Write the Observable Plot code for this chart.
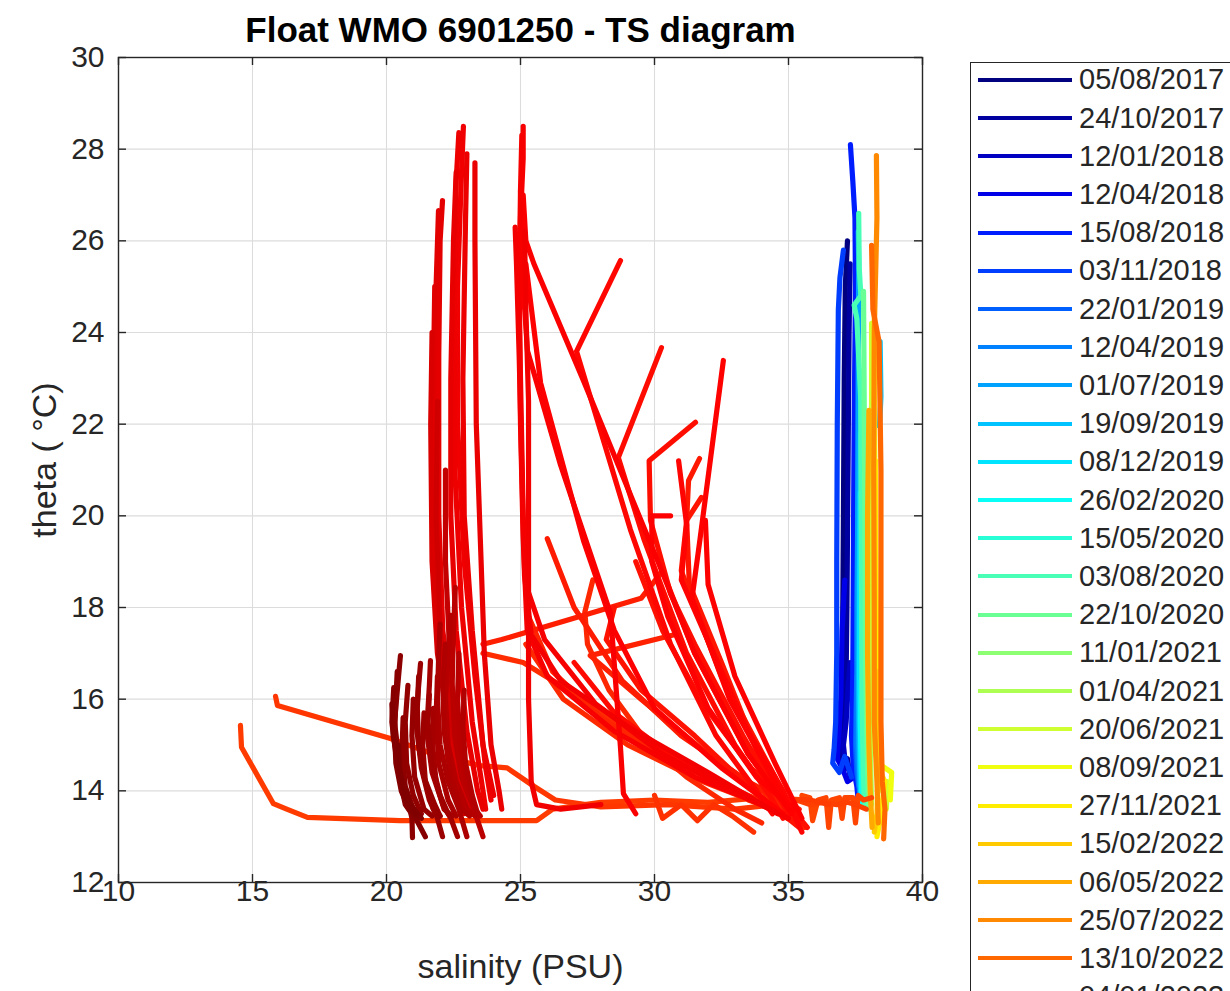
<!DOCTYPE html>
<html><head><meta charset="utf-8">
<script src="https://cdn.jsdelivr.net/npm/d3@7"></script>
<script src="https://cdn.jsdelivr.net/npm/@observablehq/plot@0.6"></script>
<style>
html,body{margin:0;padding:0;background:#fff;overflow:hidden;width:1230px;height:991px;}
#wrap{position:relative;width:1230px;height:991px;overflow:hidden;font-family:"Liberation Sans",Arial,sans-serif;}
#wrap svg.plot{position:absolute;left:0;top:0;}
#legend{position:absolute;left:970px;top:62px;width:300px;height:1000px;border:1.2px solid #262626;background:#fff;box-sizing:border-box;}
.item{position:absolute;left:7px;height:32px;display:flex;align-items:center;font-size:29px;color:#262626;white-space:nowrap;}
.item svg{margin-right:7px;}
</style></head>
<body><div id="wrap"><div id="legend"></div></div>
<script>
// ---------- data ----------
const titleText = "Float WMO 6901250 - TS diagram";
const xLabel = "salinity (PSU)";
const yLabel = "theta ( \u00B0C)";
const xTicks = [10, 15, 20, 25, 30, 35, 40];
const yTicks = [12, 14, 16, 18, 20, 22, 24, 26, 28, 30];
const dateStart = "2017-08-05";
const dateEnd = "2024-04-20";

const legendDates = ["05/08/2017","24/10/2017","12/01/2018","12/04/2018","15/08/2018","03/11/2018",
  "22/01/2019","12/04/2019","01/07/2019","19/09/2019","08/12/2019","26/02/2020","15/05/2020",
  "03/08/2020","22/10/2020","11/01/2021","01/04/2021","20/06/2021","08/09/2021","27/11/2021",
  "15/02/2022","06/05/2022","25/07/2022","13/10/2022","04/01/2023"];

// Aegean profiles 2017-2022: [salinity, theta]
const aegeanDates = ["2017-08-05","2017-10-24","2018-01-12","2018-04-12","2018-08-15","2018-11-03",
  "2019-01-22","2019-04-12","2019-07-01","2019-09-19","2019-12-08","2020-02-26","2020-05-15",
  "2020-08-03","2020-10-22","2021-01-11","2021-04-01","2021-06-20","2021-09-08","2021-11-27",
  "2022-02-15","2022-05-06","2022-07-25","2022-10-13"];
const aegeanProfiles = [
  [[37.2,26.0],[37.12,25.0],[37.08,23],[37.05,20],[37.02,17.5],[37.0,16],[36.95,15.2],[36.85,14.9],[36.95,14.6],[37.1,14.5]],
  [[37.3,25.5],[37.26,24],[37.22,21],[37.18,18],[37.15,16.5],[37.05,15.4],[36.95,14.8],[37.05,14.45],[37.2,14.7],[37.3,14.3]],
  [[37.3,16.8],[37.22,16.2],[37.15,15.5],[37.05,15.0],[37.12,14.6],[37.3,14.4],[37.45,14.6]],
  [[37.1,18.6],[37.0,17.5],[36.95,16],[36.88,15.2],[36.82,14.7],[37.0,14.5],[37.2,14.2],[37.45,14.3]],
  [[37.31,28.1],[37.4,27.3],[37.48,26.5],[37.5,25],[37.45,22],[37.42,19],[37.4,16.5],[37.35,15.2],[37.42,14.5],[37.55,14.1],[37.6,13.8]],
  [[37.05,25.8],[36.92,25.2],[36.86,24.5],[36.82,22],[36.8,19],[36.8,17],[36.76,15.5],[36.7,14.9],[36.65,14.6],[36.9,14.4],[37.1,14.75],[37.35,14.3]],
  [[37.55,16.5],[37.52,15.8],[37.5,15.0],[37.55,14.4],[37.62,14.1]],
  [[37.58,19.8],[37.55,18],[37.55,16],[37.55,15],[37.62,14.2],[37.66,13.9]],
  [[37.6,26.2],[37.62,25.5],[37.6,23],[37.58,20],[37.6,17],[37.62,15],[37.66,14.1]],
  [[38.42,23.8],[38.45,22.6],[38.4,22.0],[37.68,21.8],[37.65,19],[37.63,16],[37.66,14.5],[37.7,13.8]],
  [[37.68,20.5],[37.66,18.5],[37.65,16.5],[37.7,14.8],[37.72,13.8]],
  [[37.72,16.4],[37.68,15.5],[37.72,14.5],[37.75,13.7]],
  [[37.7,22.8],[37.72,21],[37.74,18],[37.76,15.5],[37.8,13.8]],
  [[37.62,26.6],[37.64,25.4],[37.7,24.8],[37.45,24.6],[37.55,24.3],[37.7,22.5],[37.72,19],[37.75,16],[37.8,14.3],[37.85,13.7]],
  [[37.8,24.9],[37.82,23],[37.85,20],[37.88,16.5],[37.95,14.5],[38.0,13.6]],
  [[37.95,16.8],[37.95,15.8],[38.0,14.8],[38.05,13.8]],
  [[38.0,18.2],[38.0,16.5],[38.05,15],[38.1,13.7]],
  [[38.1,24.2],[38.1,21],[38.15,17],[38.2,15],[38.5,14.0],[38.7,14.2],[38.65,13.6]],
  [[38.2,25.6],[38.2,23],[38.25,19],[38.3,16],[38.35,14.6],[38.85,14.4],[38.8,13.8]],
  [[38.25,21.2],[38.25,18.5],[38.3,16],[38.35,14.5],[38.6,14.2],[38.4,13.3],[38.3,13.0]],
  [[38.3,16.6],[38.3,15.3],[38.35,14.4],[38.3,13.5],[38.2,13.1]],
  [[38.0,22.3],[37.95,20],[37.95,17],[38.0,15],[38.05,14],[38.12,13.2]],
  [[38.28,27.86],[38.3,26.5],[38.2,24],[38.18,21],[38.2,18],[38.2,15.5],[38.3,14.2],[38.35,13.3]],
  [[38.1,25.9],[38.15,24.5],[38.38,23.8],[38.45,21],[38.45,18],[38.45,15.5],[38.5,14.2],[38.6,13.6],[38.55,12.95]]
];

// Early 2023 transition profiles
const transitionDates = ["2023-01-04","2023-01-15","2023-01-28","2023-02-10","2023-02-22"];
const transitionProfiles = [
  [[38.1,13.85],[37.8,13.8],[37.6,13.9],[37.5,13.3],[37.4,13.85],[37.1,13.85],[37.0,13.4],[36.9,13.85],[36.6,13.8],[36.5,13.2],[36.4,13.85],[36.1,13.8],[35.9,13.35],[35.8,13.85],[35.5,13.9]],
  [[37.9,13.6],[37.5,13.7],[37.2,13.75],[36.8,13.7],[36.3,13.75],[35.8,13.7],[35.3,13.8],[34.8,13.5],[34.5,13.85],[34.0,13.7],[33.5,13.8]],
  [[14.55,15.43],[14.59,14.95],[15.78,13.72],[16.23,13.61],[17.05,13.42],[20.5,13.35],[25.6,13.35],[26.2,13.6],[28.0,13.75],[30.0,13.8],[32.0,13.75],[34.0,13.85],[35.8,13.8],[36.5,13.7]],
  [[15.86,16.06],[15.93,15.86],[20.15,15.14],[22.0,14.75],[23.5,14.55],[24.5,14.5],[25.5,14.1],[26.3,13.8],[28.0,13.65],[30.5,13.7],[33.0,13.6],[34.5,13.7]],
  [[30.0,13.9],[30.3,13.4],[31.0,13.7],[31.6,13.35],[32.2,13.7],[32.9,13.45],[33.7,13.1]]
];

// Spring 2023 profiles (fan)
const springDates = ["2023-03-05","2023-03-12","2023-03-18","2023-03-25","2023-04-01","2023-04-08",
  "2023-04-15","2023-04-22","2023-04-29","2023-05-05","2023-05-11","2023-05-17","2023-05-23",
  "2023-05-29","2023-06-04","2023-06-09","2023-06-13","2023-06-17","2023-06-19"];
const springProfiles = [
  [[23.6,17.0],[25.1,16.8],[26.5,16.3],[29,15.3],[32,14.3],[35,13.5]],
  [[25.2,17.2],[26.6,16.0],[29.0,15.0],[31.8,14.2],[34.0,13.7],[35.6,13.2]],
  [[27.7,18.6],[27.4,17.9],[27.5,17.2],[28.3,16.2],[29.8,15.0],[31.2,14.3],[33,13.6],[34.0,13.3]],
  [[25.3,17.8],[26.2,16.6],[28.0,15.6],[30.5,14.7],[33.0,14.0],[35.2,13.5]],
  [[30.7,17.4],[27.6,16.95],[29.5,16.0],[32,14.8],[34.5,13.8],[35.3,13.3]],
  [[23.6,17.2],[24.3,17.3],[29.5,18.2],[30.3,18.8],[31.5,17],[33.5,14.8],[35.3,13.4]],
  [[26.0,19.5],[27.0,18.0],[28.8,16.4],[31,15.2],[33.5,14.2],[35.4,13.6]],
  [[31.68,21.25],[31.27,20.77],[31.2,19.9],[31.0,18.8],[32.5,16.5],[34.5,14.3],[35.3,13.3]],
  [[31.75,20.4],[31.2,19.9],[31.3,18.5],[32.5,16.8],[34,14.6],[35.2,13.5]],
  [[28.5,18.0],[28.2,17.3],[29.5,16.2],[31.5,15.2],[33.5,14.1],[35.4,13.2]],
  [[29.3,19.0],[30.3,17.5],[31.8,15.9],[33.6,14.5],[35.0,13.7],[35.7,13.2]],
  [[31.53,22.04],[29.8,21.2],[29.85,19.9],[30.6,18.3],[31.5,17.2],[33.3,15.2],[34.5,14],[35.0,13.5]],
  [[30.26,23.67],[28.65,21.27],[29.6,19.5],[30.3,18.4],[31.2,17],[33,15],[34.3,13.9],[34.8,13.4]],
  [[27.0,16.8],[28.5,15.7],[30.8,14.7],[33.2,13.9],[34.8,13.5]],
  [[28.73,25.57],[27.09,23.59],[29.1,19.7],[30.6,17.2],[32.3,15.2],[33.8,14.0],[34.4,13.5]],
  [[30.9,21.2],[31.2,19.8],[31.0,18.6],[32.2,17.0],[33.5,15.3],[34.8,14.0],[35.5,13.1]],
  [[32.57,23.39],[31.7,19.5],[31.4,18.2],[32.8,16],[34.2,14.5],[35.1,13.5]],
  [[30.6,20.0],[29.9,20.0],[29.9,19.0],[30.5,17.8],[32,15.8],[33.8,14.3],[35.2,13.6]],
  [[31.9,19.9],[32.0,18.5],[33,16.5],[34.5,14.6],[35.5,13.4]]
];

// Summer 2023 profiles (fresh surface, warm)
const summerDates = ["2023-06-20","2023-06-25","2023-06-30","2023-07-05","2023-07-10","2023-07-15","2023-07-20",
  "2023-07-25","2023-07-30","2023-08-04","2023-08-09","2023-08-14","2023-08-19","2023-08-24","2023-08-31"];
const summerProfiles = [
  [[25.2,25.5],[25.75,22.9],[27.35,19.46],[28.5,17.5],[30,15.8],[32.5,14.5],[34.8,13.5]],
  [[25.1,27.0],[25.2,26.0],[25.5,25.5],[27.35,22.95],[30.2,18.9],[31.5,17],[33.5,14.8],[35,13.6]],
  [[25.0,27.1],[25.1,25],[25.26,23.6],[26.5,21.1],[28.36,17.87],[28.73,14.95],[28.84,13.94],[29.3,13.5]],
  [[25.1,28.5],[25.1,27.8],[25.0,26.5],[24.95,24.5],[25.0,22],[25.1,19.5],[25.25,17.5],[26.0,16.5],[28.5,15.3],[31.5,14.3],[34.0,13.7],[35.0,13.4]],
  [[25.05,28.3],[25.0,27.1],[24.95,25],[25.0,23],[25.1,20],[25.2,18.5],[25.9,17.3],[27.8,15.9],[30.3,14.8],[32.9,14.0],[34.3,13.6]],
  [[24.8,26.3],[24.85,25.5],[24.95,23.5],[25.05,21],[25.15,18.7],[25.4,17.4],[26.5,16.4],[29,15.4],[32,14.4],[34.6,13.5]],
  [[25.15,26.2],[25.2,24.5],[25.3,22.5],[25.3,19],[25.3,16],[25.4,14.2],[25.6,13.7],[26.5,13.6],[28,13.7]],
  [[22.87,28.5],[22.8,27.5],[22.65,25],[22.65,22],[22.9,19],[23.3,16.5],[23.7,14.5],[23.9,13.8]],
  [[22.7,28.36],[22.6,27.3],[22.5,24],[22.55,21],[22.8,18],[23.2,15.5],[23.6,14],[23.7,13.6]],
  [[23.0,27.9],[22.95,26.5],[22.85,23],[22.9,20],[23.2,17.5],[23.6,15],[24.0,13.9]],
  [[23.3,27.7],[23.3,26],[23.35,22],[23.5,19.5],[23.65,17],[23.9,15],[24.2,14.0],[24.3,13.6]],
  [[22.6,27.5],[22.5,26],[22.4,23],[22.4,20],[22.6,17.5],[23.0,15.3],[23.4,14],[23.6,13.6]],
  [[22.09,26.88],[22.0,26],[21.95,23.5],[21.95,20],[22.1,17.5],[22.5,15.5],[22.9,14.3],[23.1,13.7]],
  [[21.94,26.66],[21.85,25],[21.8,22],[21.85,19],[22.1,16.5],[22.5,15],[22.8,14],[22.9,13.5]],
  [[21.8,25.0],[21.75,23],[21.75,20],[21.9,17.5],[22.3,15.5],[22.7,14.3],[22.9,13.7]]
];

// Autumn 2023 profiles
const autumnDates = ["2023-09-15","2023-10-10","2023-11-05"];
const autumnProfiles = [
  [[21.7,24.0],[21.65,22],[21.7,19],[21.9,17],[22.3,15.5],[22.7,14.3],[22.9,13.6]],
  [[21.9,22.5],[21.85,20],[22.0,17.5],[22.4,15.5],[22.9,14.1],[23.1,13.6]],
  [[22.2,21],[22.2,19],[22.4,16.5],[22.8,14.7],[23.2,13.8]]
];

// Winter 2024 profiles
const winterDates = ["2023-11-28","2023-12-05","2023-12-12","2023-12-19","2023-12-26","2024-01-02",
  "2024-01-09","2024-01-16","2024-01-23","2024-01-30","2024-02-06","2024-02-13","2024-02-20",
  "2024-02-27","2024-03-05","2024-03-12","2024-03-19","2024-03-26","2024-04-02","2024-04-08",
  "2024-04-14","2024-04-19"];
const winterProfiles = [
  [[22.57,18.44],[22.5,17.5],[22.45,16.3],[22.55,15.2],[22.8,14.3],[23.2,13.7],[23.6,13.0]],
  [[22.7,17.0],[22.65,16],[22.75,15],[23.0,14.2],[23.3,13.6],[23.5,13.45]],
  [[22.4,17.83],[22.3,17],[22.2,16],[22.3,15],[22.6,14.2],[23.0,13.6],[23.3,13.45]],
  [[22.9,16.2],[22.85,15.4],[22.95,14.6],[23.2,13.9],[23.4,13.5]],
  [[22.2,17.2],[22.1,16.3],[22.15,15.3],[22.4,14.3],[22.8,13.6],[23.1,13.45]],
  [[22.0,17.64],[21.95,17],[21.9,16],[22.0,15],[22.3,14.2],[22.7,13.6],[23.0,13.0]],
  [[21.9,16.5],[21.85,15.6],[21.95,14.6],[22.3,13.8],[22.6,13.45]],
  [[21.75,15.8],[21.72,15.0],[21.85,14.2],[22.15,13.6],[22.45,13.45]],
  [[21.64,16.84],[21.6,16.3],[21.5,15.3],[21.7,14.4],[22.1,13.7],[22.4,13.4],[22.65,13.0]],
  [[21.6,16.1],[21.55,15.5],[21.7,14.6],[22.0,13.9],[22.3,13.5]],
  [[21.4,15.7],[21.35,15.0],[21.45,14.2],[21.75,13.6],[22.0,13.45]],
  [[21.27,16.78],[21.2,16.3],[21.1,15.5],[21.3,14.5],[21.6,13.8],[21.9,13.4],[22.09,13.0]],
  [[21.2,16.5],[21.15,15.8],[21.2,15],[21.4,14.3],[21.8,13.7],[22.0,13.45]],
  [[21.0,16.0],[20.95,15.2],[21.05,14.3],[21.4,13.6],[21.7,13.45]],
  [[20.8,16.3],[20.7,15.5],[20.75,14.6],[21.0,13.9],[21.3,13.5]],
  [[20.62,15.6],[20.58,14.9],[20.7,14.1],[21.0,13.6],[21.25,13.45]],
  [[20.52,16.95],[20.45,16.5],[20.3,15.5],[20.5,14.5],[20.8,13.8],[20.95,13.4],[20.97,12.98]],
  [[20.4,16.6],[20.35,16.0],[20.3,15.2],[20.45,14.4],[20.7,13.7],[21.0,13.45]],
  [[20.27,16.25],[20.2,15.5],[20.35,14.8],[20.7,13.9],[21.0,13.5],[21.45,13.0]],
  [[20.3,15.3],[20.35,14.6],[20.55,14.0],[20.85,13.6],[21.15,13.45]],
  [[20.2,15.9],[20.25,15.2],[20.5,14.4],[20.9,13.7],[21.3,13.4]],
  [[20.45,15.0],[20.5,14.3],[20.75,13.8],[21.1,13.5]]
];

// ---------- build ----------
function jet(x) {
  const c = v => Math.max(0, Math.min(1, v));
  const r = c(1.5 - Math.abs(4 * x - 3)), g = c(1.5 - Math.abs(4 * x - 2)), b = c(1.5 - Math.abs(4 * x - 1));
  return `rgb(${Math.round(r * 255)},${Math.round(g * 255)},${Math.round(b * 255)})`;
}
const groups = [
  [aegeanDates, aegeanProfiles], [transitionDates, transitionProfiles], [springDates, springProfiles],
  [summerDates, summerProfiles], [autumnDates, autumnProfiles], [winterDates, winterProfiles]
];
const rows = [];
let pid = 0;
for (const [dates, profs] of groups) {
  profs.forEach((pts, i) => {
    const d = Date.parse(dates[i]);
    for (const [s, t] of pts) rows.push({p: pid, s, t, d});
    pid++;
  });
}

const W = 1230, H = 991, mL = 118, mR = 308, mT = 57, mB = 109;
const plotW = W - mL - mR, plotH = H - mT - mB;
const tickLen = 8;
const ink = "#262626";

const chart = Plot.plot({
  width: W, height: H,
  marginLeft: mL, marginRight: mR, marginTop: mT, marginBottom: mB,
  style: {fontFamily: "'Liberation Sans', Arial, sans-serif", fontSize: "30px", color: ink, background: "white", overflow: "visible"},
  x: {domain: [10, 40], label: null},
  y: {domain: [12, 30], label: null},
  color: {type: "linear", domain: [Date.parse(dateStart), Date.parse(dateEnd)], interpolate: jet},
  marks: [
    Plot.gridX(xTicks, {stroke: "#dcdcdc", strokeOpacity: 1, strokeWidth: 1.1}),
    Plot.gridY(yTicks, {stroke: "#dcdcdc", strokeOpacity: 1, strokeWidth: 1.1}),
    Plot.line(rows, {x: "s", y: "t", z: "p", stroke: "d", strokeWidth: 5.2, strokeLinejoin: "round", strokeLinecap: "round", curve: "linear"}),
    Plot.frame({stroke: ink, strokeWidth: 1.4}),
    Plot.tickX(xTicks, {x: d => d, stroke: ink, strokeWidth: 1.4, insetTop: plotH - tickLen}),
    Plot.tickX(xTicks, {x: d => d, stroke: ink, strokeWidth: 1.4, insetBottom: plotH - tickLen}),
    Plot.tickY(yTicks, {y: d => d, stroke: ink, strokeWidth: 1.4, insetRight: plotW - tickLen}),
    Plot.tickY(yTicks, {y: d => d, stroke: ink, strokeWidth: 1.4, insetLeft: plotW - tickLen}),
    Plot.axisX(xTicks, {tickSize: 0, tickPadding: -3, fontSize: 30, fill: ink, label: null}),
    Plot.axisY(yTicks, {tickSize: 0, tickPadding: 14, fontSize: 30, fill: ink, label: null}),
    Plot.text([xLabel], {frameAnchor: "bottom", lineAnchor: "middle", dy: 85, fontSize: 34, fill: ink}),
    Plot.text([yLabel], {frameAnchor: "left", textAnchor: "middle", dx: -73, dy: -10, rotate: -90, fontSize: 34, fill: ink}),
    Plot.text([titleText], {frameAnchor: "top", lineAnchor: "middle", dy: -27, fontSize: 35, fontWeight: "bold", fill: "#000"})
  ]
});
chart.classList.add("plot");
document.getElementById("wrap").prepend(chart);

// ---------- legend ----------
const colorScale = chart.scale("color");
const legend = document.getElementById("legend");
const legendStep = 38.2;
legendDates.forEach((ds, i) => {
  const [dd, mm, yy] = ds.split("/");
  const col = colorScale.apply(Date.parse(`${yy}-${mm}-${dd}`));
  const item = document.createElement("div");
  item.className = "item";
  item.style.top = (80 - 62 - 1.2 - 16 + i * legendStep) + "px";
  item.innerHTML = `<svg width="94" height="10"><line x1="0" y1="5" x2="94" y2="5" stroke="${col}" stroke-width="4"/></svg><span>${ds}</span>`;
  legend.appendChild(item);
});
</script>
</body></html>
